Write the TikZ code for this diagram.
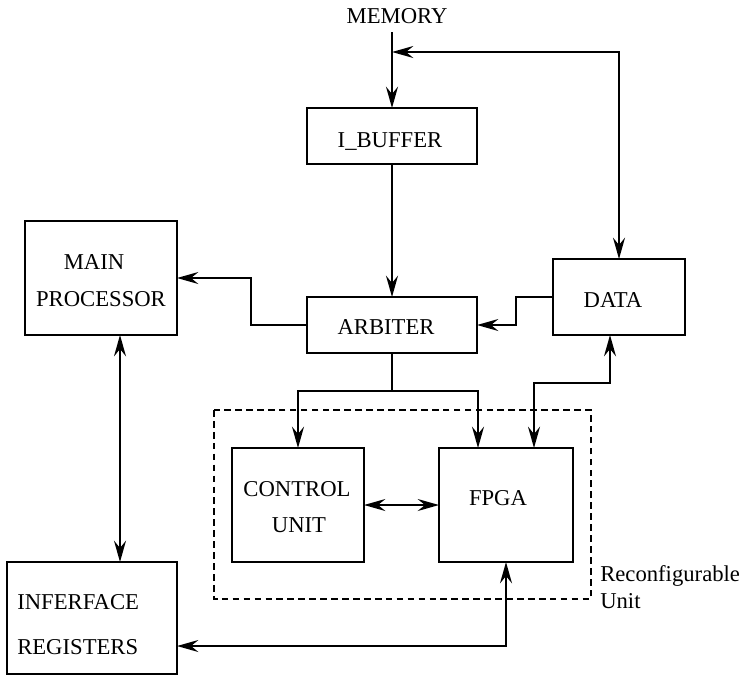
\documentclass[tikz,border=0pt]{standalone}
\usepackage{fontspec}
\setmainfont{Liberation Serif}
\usetikzlibrary{arrows.meta}
\def\px{0.75pt}
\tikzset{
  box/.style={draw, line width=1.5pt, inner sep=0pt, outer sep=0pt},
  lbl/.style={inner sep=0pt, anchor=base, font=\fontsize{17}{20}\selectfont},
  lblw/.style={inner sep=0pt, anchor=base west, font=\fontsize{17}{20}\selectfont},
  conn/.style={line width=1.5pt},
  tip/.tip={Stealth[length=16pt, width=9pt, inset=5.5pt]},
}
\begin{document}
\begin{tikzpicture}[x=0.75pt, y=-0.75pt]
\useasboundingbox (0,0) rectangle (741,676);
% boxes
\node[box, minimum width=170*\px, minimum height=56*\px] (ibuf) at (392,136) {};
\node[box, minimum width=170*\px, minimum height=56*\px] (arb) at (392,325) {};
\node[box, minimum width=152*\px, minimum height=114*\px] (main) at (101,278) {};
\node[box, minimum width=132*\px, minimum height=76*\px] (data) at (619,297) {};
\node[box, minimum width=132*\px, minimum height=114*\px] (cu) at (298,505) {};
\node[box, minimum width=134*\px, minimum height=114*\px] (fpga) at (506,505) {};
\node[box, minimum width=170*\px, minimum height=112*\px] (inter) at (92,618) {};
\draw[line width=1.5pt, dash pattern=on 5pt off 3.2pt] (214,410) rectangle (591,599);
% texts
\node[lbl] (tmem) at (397,23) {MEMORY};
\node[lbl] (tibuf) at (390,147) {I\_BUFFER};
\node[lbl] (tarb) at (386,334) {ARBITER};
\node[lbl] (tmain1) at (94,269) {MAIN};
\node[lbl] (tmain2) at (101,306) {PROCESSOR};
\node[lbl] (tdata) at (613,307) {DATA};
\node[lbl] (tcu1) at (297,496) {CONTROL};
\node[lbl] (tcu2) at (299,532) {UNIT};
\node[lbl] (tfpga) at (498,505) {FPGA};
\node[lblw] (tint1) at (17,609) {INFERFACE};
\node[lblw] (tint2) at (17,654) {REGISTERS};
\node[lblw] (tru1) at (600,581) {Reconfigurable};
\node[lblw] (tru2) at (600,608) {Unit};
% connectors
\coordinate (memtop) at (392,32);
\coordinate (j1) at (392,52);
\coordinate (split) at (392,391);
\draw[conn, -tip] (memtop) -- (ibuf.north);
\draw[conn, tip-tip] (j1) -| (data.north);
\draw[conn, -tip] (ibuf.south) -- (arb.north);
\draw[conn, -tip] (arb.west) -- ++(-56,0) |- (main.east);
\draw[conn, -tip] (data.west) -- ++(-37,0) |- (arb.east);
\draw[conn] (arb.south) -- (split);
\draw[conn, -tip] (split) -| (cu.north);
\draw[conn, -tip] (split) -| ([xshift=39*\px]fpga.north west);
\draw[conn, tip-tip] ([xshift=-9*\px]data.south) -- ++(0,48) -| ([xshift=95*\px]fpga.north west);
\draw[conn, tip-tip] (cu.east) -- (fpga.west);
\draw[conn, tip-tip] ([xshift=19*\px]main.south) -- ([xshift=19*\px]main.south |- inter.north);
\draw[conn, tip-tip] ([yshift=-28*\px]inter.east) -| (fpga.south);
\end{tikzpicture}
\end{document}
